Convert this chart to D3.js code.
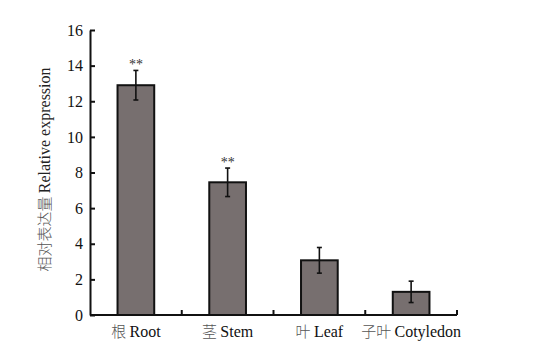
<!DOCTYPE html>
<html>
<head>
<meta charset="utf-8">
<script src="https://cdn.jsdelivr.net/npm/d3@7"></script>
<style>
  body { margin: 0; background: #fff; }
  text { font-family: "Liberation Serif", "Times New Roman", serif; }
  .cjk { font-family: "Noto Sans CJK SC", sans-serif; font-weight: 300; }
</style>
</head>
<body>
<svg id="chart" width="534" height="364"></svg>
<script>
const cnNames = ['根', '茎', '叶', '子叶'];
const enNames = ['Root', 'Stem', 'Leaf', 'Cotyledon'];
const values = [12.9, 7.45, 3.07, 1.3];
const errors = [0.83, 0.8, 0.72, 0.6];
const marks = ['**', '**', '', ''];
const yTicks = [0, 2, 4, 6, 8, 10, 12, 14, 16];

const svg = d3.select('#chart');
const margin = {left: 90, right: 77, top: 30, bottom: 49};
const width = 534 - margin.left - margin.right;
const height = 364 - margin.top - margin.bottom;

const g = svg.append('g')
    .attr('transform', `translate(${margin.left},${margin.top})`);

const x = d3.scaleBand()
    .domain(enNames)
    .range([0, width])
    .paddingInner(0.6)
    .paddingOuter(0.3);

const y = d3.scaleLinear()
    .domain([0, 16])
    .range([height, 0]);

// bars
g.selectAll('.bar')
    .data(values)
    .enter()
    .append('rect')
    .attr('class', 'bar')
    .attr('x', (d, i) => x(enNames[i]))
    .attr('y', d => y(d))
    .attr('width', x.bandwidth())
    .attr('height', d => height - y(d))
    .attr('fill', '#776f6f')
    .attr('stroke', '#111')
    .attr('stroke-width', 2);

// error bars
const cx = i => x(enNames[i]) + x.bandwidth() / 2;
const err = g.selectAll('.err')
    .data(values)
    .enter()
    .append('g')
    .attr('stroke', '#111')
    .attr('stroke-width', 1.6);
err.append('line')
    .attr('x1', (d, i) => cx(i)).attr('x2', (d, i) => cx(i))
    .attr('y1', (d, i) => y(d + errors[i])).attr('y2', (d, i) => y(d - errors[i]));
err.append('line')
    .attr('x1', (d, i) => cx(i) - 2.5).attr('x2', (d, i) => cx(i) + 2.5)
    .attr('y1', (d, i) => y(d + errors[i])).attr('y2', (d, i) => y(d + errors[i]));
err.append('line')
    .attr('x1', (d, i) => cx(i) - 2.5).attr('x2', (d, i) => cx(i) + 2.5)
    .attr('y1', (d, i) => y(d - errors[i])).attr('y2', (d, i) => y(d - errors[i]));

// significance stars
g.selectAll('.star')
    .data(values)
    .enter()
    .append('text')
    .attr('x', (d, i) => cx(i))
    .attr('y', (d, i) => y(d + errors[i]) - 1)
    .attr('text-anchor', 'middle')
    .attr('font-size', 14)
    .attr('fill', '#333')
    .text((d, i) => marks[i]);

// y axis
const yAxis = g.append('g')
    .call(d3.axisLeft(y).tickValues(yTicks).tickSizeInner(-5).tickSizeOuter(0).tickPadding(7));
yAxis.select('.domain').attr('stroke', '#111').attr('stroke-width', 2);
yAxis.selectAll('.tick line').attr('stroke', '#111').attr('stroke-width', 2);
yAxis.selectAll('.tick text')
    .attr('font-size', 16)
    .attr('fill', '#111')
    .style('font-family', '"Liberation Serif", serif');

// x axis with ticks between categories
const xAxis = g.append('g')
    .attr('transform', `translate(0,${height})`);
xAxis.append('line')
    .attr('x1', 0).attr('x2', width)
    .attr('stroke', '#111').attr('stroke-width', 2);
const step = x.step();
const bounds = d3.range(1, enNames.length + 1).map(k => x(enNames[0]) - x.paddingOuter() * step + k * step);
xAxis.selectAll('.xt')
    .data(bounds)
    .enter()
    .append('line')
    .attr('x1', d => d).attr('x2', d => d)
    .attr('y1', 0).attr('y2', -5)
    .attr('stroke', '#111').attr('stroke-width', 2);

const lab = xAxis.selectAll('.xl')
    .data(enNames)
    .enter()
    .append('text')
    .attr('x', (d, i) => cx(i))
    .attr('y', 22)
    .attr('text-anchor', 'middle')
    .attr('font-size', 16)
    .attr('fill', '#111');
lab.append('tspan').attr('class', 'cjk').attr('font-size', 15).attr('fill', '#555').text((d, i) => cnNames[i] + ' ');
lab.append('tspan').text(d => d);

// y label
svg.append('text')
    .attr('transform', `translate(50,${margin.top + height / 2 - 3}) rotate(-90)`)
    .attr('text-anchor', 'middle')
    .attr('font-size', 16)
    .attr('fill', '#222')
    .call(t => {
        t.append('tspan').attr('class', 'cjk').attr('font-size', 15).attr('fill', '#555').text('相对表达量 ');
        t.append('tspan').text('Relative expression');
    });
</script>
</body>
</html>
